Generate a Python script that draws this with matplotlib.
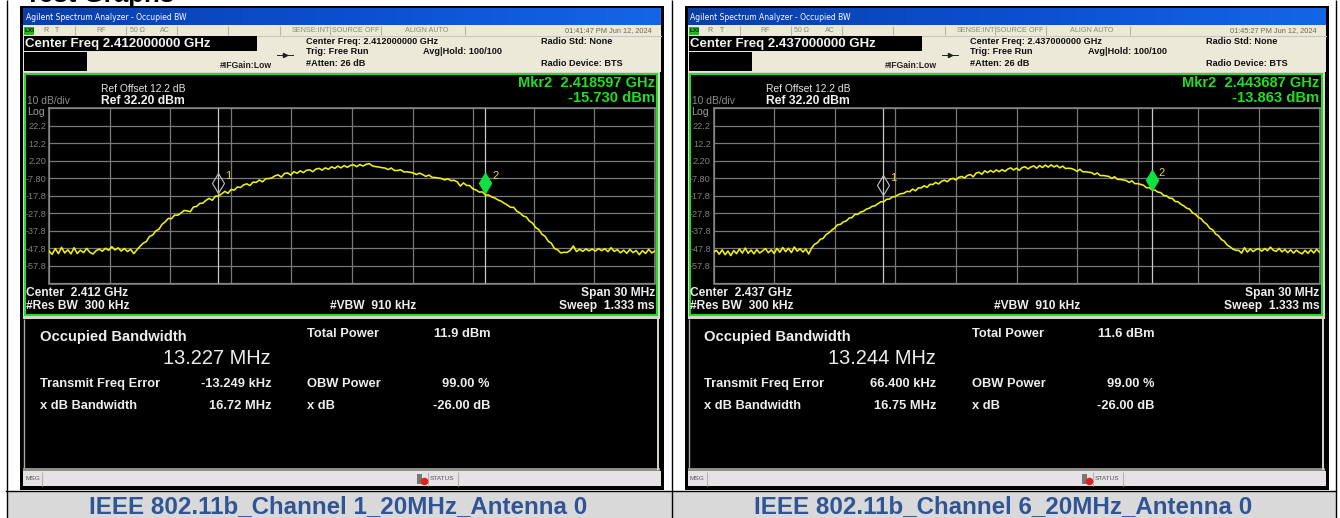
import numpy as np
import matplotlib
matplotlib.use('Agg')
import matplotlib.pyplot as plt
from matplotlib.patches import Rectangle

W, H = 1340, 518
plt.rcParams['font.family'] = ['Liberation Sans', 'DejaVu Sans']

# trace data, dBm, evenly spaced over the 30 MHz span
trace_ch1 = [
    -49.3, -51.2, -47.9, -50.8, -47.2, -50.4, -48.6, -50.9, -47.4, -50.7, -48.8, -50.2,
    -47.8, -50.0, -51.0, -49.1, -48.2, -49.4, -47.7, -48.9, -46.8, -48.7, -47.5, -49.3,
    -47.9, -49.6, -48.3, -50.8, -48.6,
    -46.6, -44.8, -43.9, -41.0, -40.2, -37.9, -36.9, -34.1, -32.7, -30.7, -30.9, -28.8, -28.9,
    -27.7, -26.2, -26.4, -26.9, -24.2, -23.9, -22.2, -22.0, -20.4, -19.3, -20.4, -18.1, -17.9,
    -16.7, -15.3, -16.4, -14.2, -14.6, -12.8, -13.1, -11.6, -11.0, -12.0, -10.0, -10.2, -8.8,
    -9.9, -8.1, -8.0, -7.6, -6.4, -5.9, -7.2, -5.1, -4.8, -6.0, -4.1, -5.0, -3.6, -4.6, -3.3,
    -3.0, -4.1, -2.6, -2.2, -3.2, -1.9, -2.7, -1.3, -2.2, -0.9, -1.9, -0.6, -1.6, -0.5, -0.2,
    -1.2, 0.0, -0.9, 0.1, 0.5, -0.8, -1.2, -1.4, -1.8, -2.0, -2.9, -2.0, -3.4, -3.4, -3.0,
    -4.2, -4.2, -4.4, -4.8, -5.7, -4.9, -5.7, -6.8, -6.0, -7.3, -7.4, -7.7, -8.0, -8.8, -8.1,
    -9.2, -9.0, -9.9, -12.3, -10.5, -11.9, -12.0, -13.9, -14.5, -15.7, -15.6, -17.4, -17.4,
    -18.5, -19.1, -20.2, -20.9, -22.1, -23.1, -24.4, -24.4, -26.6, -27.6, -29.3, -29.9,
    -32.2, -33.4, -35.9, -37.1, -39.8, -40.9, -43.7, -44.9, -47.9, -48.6, -50.4, -50.0,
    -50.1, -48.9, -46.4, -49.6, -48.3, -49.5, -48.1, -49.2, -48.2, -49.3, -47.9, -49.1,
    -48.0, -49.7, -47.4, -49.5, -48.5, -50.3, -48.8, -50.6, -48.4, -50.2, -49.0, -51.4,
    -49.1, -50.7, -48.3, -50.4, -49.2,
]

trace_ch6 = [
    -50.0, -48.9, -51.1, -48.6, -51.4, -49.3, -51.9, -49.0, -50.8, -48.1, -50.5, -47.6,
    -50.6, -48.7, -50.9, -48.5, -50.4, -49.2, -47.9, -50.3, -48.6, -50.7, -47.8, -50.0,
    -47.3, -49.7, -47.7, -50.2, -47.0, -49.4, -48.0, -49.9, -48.2, -51.0,
    -47.6, -45.5, -44.6, -42.6, -42.1, -39.9, -38.9, -37.4, -36.2, -34.3, -34.1, -32.7, -32.2,
    -30.5, -30.2, -28.4, -28.4, -27.1, -26.6, -25.4, -24.9, -23.8, -23.5, -22.3, -21.2, -21.2,
    -19.8, -19.7, -18.4, -18.3, -17.2, -16.6, -16.4, -15.3, -15.5, -14.0, -15.0, -13.3, -13.3,
    -12.1, -13.0, -11.3, -11.4, -10.2, -11.1, -9.6, -8.9, -9.8, -8.4, -7.9, -8.8, -7.3, -6.8,
    -7.7, -6.2, -5.7, -7.0, -4.9, -4.4, -5.6, -3.6, -4.6, -3.4, -4.4, -3.1, -4.1, -2.9, -3.9,
    -2.6, -1.9, -3.1, -2.1, -3.3, -1.7, -1.3, -2.5, -1.4, -0.8, -2.1, -0.6, -1.7, -0.3, -1.5,
    -0.2, -1.4, -0.5, -1.9, -0.9, -2.3, -2.1, -2.3, -2.9, -3.9, -2.7, -4.2, -4.1, -4.4, -4.6,
    -5.7, -4.8, -6.3, -6.3, -6.5, -6.8, -7.9, -7.0, -8.5, -8.5, -8.8, -9.1, -10.2, -9.3, -10.9,
    -10.9, -11.3, -11.8, -13.2, -13.2, -14.5, -14.6, -15.7, -16.0, -17.7, -17.8, -19.2,
    -19.3, -21.1, -21.2, -22.7, -23.6, -24.9, -25.4, -27.6, -28.3, -30.1, -30.9, -32.9,
    -34.1, -36.4, -37.2, -39.6, -40.6, -42.7, -43.7, -45.9, -46.9, -48.2, -48.9, -48.9,
    -50.5, -47.4, -49.9, -48.1, -49.6, -48.4, -48.0, -49.4, -47.9, -49.1, -47.1, -48.9,
    -49.5, -47.8, -49.8, -48.4, -50.2, -48.6, -50.5, -48.8, -50.1, -50.9, -48.9, -50.6,
    -48.6, -50.4, -48.3, -50.0,
]

# y axis labels, dBm
level_values = [32.2, 22.2, 12.2, 2.2, -7.8, -17.8, -27.8, -37.8, -47.8, -57.8, -67.8]
level_labels = ['', '22.2', '12.2', '2.20', '-7.80', '-17.8', '-27.8', '-37.8', '-47.8', '-57.8', '']

# marker positions: MHz from center, and drawn level in dBm
mkr1_ch1 = (-6.63, -10.3)
mkr2_ch1 = (6.60, -10.3)
mkr1_ch6 = (-6.62, -11.4)
mkr2_ch6 = (6.69, -8.6)

clock = ['01:41:47 PM Jun 12, 2024', '01:45:27 PM Jun 12, 2024']
center_ghz = ['2.412', '2.437']
mkr_freq = ['2.418597', '2.443687']
mkr_level = ['-15.730', '-13.863']
obw = ['13.227 MHz', '13.244 MHz']
total_power = ['11.9 dBm', '11.6 dBm']
freq_error = ['-13.249 kHz', '66.400 kHz']
xdb_bw = ['16.72 MHz', '16.75 MHz']
captions = ['IEEE 802.11b_Channel 1_20MHz_Antenna 0', 'IEEE 802.11b_Channel 6_20MHz_Antenna 0']

fig = plt.figure(figsize=(W / 100, H / 100), dpi=100)
bg = fig.add_axes([0, 0, 1, 1])
bg.set_xlim(0, W)
bg.set_ylim(H, 0)
bg.axis('off')


def box(x0, y0, x1, y1, color, z=1):
    bg.add_patch(Rectangle((x0, y0), x1 - x0, y1 - y0, fc=color, ec='none', zorder=z))


def vline(x, y0, y1, color='#b5b3ae', lw=0.8, z=3):
    bg.plot([x, x], [y0, y1], color=color, lw=lw, zorder=z, solid_capstyle='butt')


def put(x, y, s, px, color='black', weight='normal', ha='left', **kw):
    bg.text(x, y, s, fontsize=px * 0.72, color=color, weight=weight, ha=ha, va='center', zorder=5, **kw)


def panel(i, dx, trace, mkr1, mkr2):
    # window frame
    box(dx + 20, 6, dx + 664, 490, 'black')
    # title bar
    grad = np.linspace(0, 1, 200).reshape(1, -1)
    bg.imshow(grad, extent=(dx + 23, dx + 661, 25, 8), aspect='auto', zorder=2,
              cmap=matplotlib.colors.LinearSegmentedColormap.from_list('bar', ['#0b3fa8', '#0a4fd0', '#1466e6']))
    put(dx + 26, 17, 'Agilent Spectrum Analyzer - Occupied BW', 7.7, 'white',
        family=['DejaVu Sans'])
    # top status row and settings block
    box(dx + 23, 25, dx + 661, 72, '#ece9d8', 2)
    box(dx + 24, 27, dx + 34, 35, '#22b822', 3)
    put(dx + 25, 31, 'LXI', 6.5, '#111111', 'bold')
    put(dx + 43, 31, 'R', 7, '#777777')
    put(dx + 55, 31, 'T', 7, '#777777')
    put(dx + 96, 31, 'RF', 7, '#888888')
    put(dx + 130, 31, '50 Ω', 7, '#888888')
    put(dx + 160, 31, 'AC', 7, '#888888')
    put(dx + 292, 31, 'SENSE:INT', 7.3, '#888888')
    put(dx + 332, 31, 'SOURCE OFF', 7.3, '#888888')
    put(dx + 405, 31, 'ALIGN AUTO', 7.3, '#888888')
    put(dx + 652, 31, clock[i], 7.4, '#666666', ha='right')
    for sx in [75, 126, 177, 228, 280, 330, 381, 465]:
        vline(dx + sx, 26, 35)
    bg.plot([dx + 23, dx + 661], [35.5, 35.5], color='#c8c6bd', lw=0.8, zorder=3)

    box(dx + 24, 36, dx + 257, 51, 'black', 3)
    put(dx + 25, 44, 'Center Freq ' + center_ghz[i] + '000000 GHz', 13.2, '#f2f2f2', 'bold')
    box(dx + 24, 52, dx + 87, 71, 'black', 3)
    put(dx + 306, 42, 'Center Freq: ' + center_ghz[i] + '000000 GHz', 9.1, '#111111', 'bold')
    put(dx + 306, 52, 'Trig: Free Run', 9.1, '#111111', 'bold')
    put(dx + 306, 63, '#Atten: 26 dB', 9.1, '#111111', 'bold')
    put(dx + 423, 52, 'Avg|Hold: 100/100', 9.1, '#111111', 'bold')
    put(dx + 541, 42, 'Radio Std: None', 9.1, '#111111', 'bold')
    put(dx + 541, 63, 'Radio Device: BTS', 9.1, '#111111', 'bold')
    put(dx + 220, 65, '#IFGain:Low', 8.7, '#222222', 'bold')
    bg.plot([dx + 277, dx + 293], [55, 55], color='#222222', lw=0.7, zorder=4)
    bg.plot([dx + 285], [55], marker='>', ms=3, color='#222222', zorder=4)

    # green screen frame
    box(dx + 23, 72, dx + 660, 319, '#d8d6cc', 2)
    box(dx + 24, 73, dx + 658, 316, '#22dd22', 3)
    box(dx + 26, 75, dx + 656, 314, 'black', 4)

    put(dx + 101, 89, 'Ref Offset 12.2 dB', 10.2, '#e6e6e6')
    put(dx + 101, 101, 'Ref 32.20 dBm', 12.1, '#f2f2f2', 'bold')
    put(dx + 27, 101, '10 dB/div', 10.2, '#8c8c8c')
    put(dx + 27, 112, 'Log', 10.5, '#9a9a9a')
    put(dx + 655, 83, 'Mkr2  ' + mkr_freq[i] + ' GHz', 14.6, '#22dd22', 'bold', ha='right')
    put(dx + 655, 98, mkr_level[i] + ' dBm', 14.7, '#22dd22', 'bold', ha='right')

    put(dx + 26, 293, 'Center  ' + center_ghz[i] + ' GHz', 12, '#eeeeee', 'bold')
    put(dx + 26, 306, '#Res BW  300 kHz', 12, '#eeeeee', 'bold')
    put(dx + 330, 306, '#VBW  910 kHz', 12, '#eeeeee', 'bold')
    put(dx + 655, 293, 'Span 30 MHz', 12, '#eeeeee', 'bold', ha='right')
    put(dx + 655, 306, 'Sweep  1.333 ms', 12, '#eeeeee', 'bold', ha='right')

    # trace plot
    x0, x1, y0, y1 = dx + 49, dx + 655, 108, 283.5
    ax = fig.add_axes([x0 / W, 1 - y1 / H, (x1 - x0) / W, (y1 - y0) / H], facecolor='black')
    ax.set_xlim(-15, 15)
    ax.set_ylim(level_values[-1], level_values[0])
    ax.set_xticks(np.linspace(-15, 15, 11))
    ax.set_yticks(level_values)
    ax.set_yticklabels(level_labels, fontsize=6.6, color='#808080')
    ax.tick_params(axis='both', length=0, labelbottom=False, pad=2)
    ax.grid(True, color='#787878', lw=0.9)
    ax.set_axisbelow(True)
    for sp in ax.spines.values():
        sp.set_color('#8a8a8a')
        sp.set_linewidth(1.1)
    ax.plot(np.linspace(-15, 15, len(trace)), trace, color='#f2f20a', lw=1.15, zorder=3)
    ax.axvline(mkr1[0], color='#c8c8c8', lw=0.9, zorder=2)
    ax.axvline(mkr2[0], color='#c8c8c8', lw=0.9, zorder=2)
    ax.plot(*mkr1, marker='d', ms=10, mfc='none', mec='#c0c0c0', mew=0.8, zorder=4)
    ax.plot(*mkr2, marker='d', ms=10, mfc='#10e040', mec='#10e040', zorder=4)
    ax.annotate('1', mkr1, xytext=(7, 7), textcoords='offset pixels', color='#e6d830', fontsize=8, va='center')
    ax.annotate('2', mkr2, xytext=(7, 7), textcoords='offset pixels', color='#e6d830', fontsize=8, va='center')

    # result panel
    vline(dx + 24, 319, 468, '#a8a8a0', 1.0)
    vline(dx + 658, 319, 470, '#d8d6cc', 1.4)
    put(dx + 40, 337, 'Occupied Bandwidth', 14.8, '#eeeeee', 'bold')
    put(dx + 271, 358, obw[i], 20, '#eeeeee', ha='right')
    put(dx + 307, 334, 'Total Power', 12.9, '#eeeeee', 'bold')
    put(dx + 490, 334, total_power[i], 12.9, '#eeeeee', 'bold', ha='right')
    put(dx + 40, 384, 'Transmit Freq Error', 12.9, '#eeeeee', 'bold')
    put(dx + 272, 384, freq_error[i], 12.9, '#eeeeee', 'bold', ha='right')
    put(dx + 307, 384, 'OBW Power', 12.9, '#eeeeee', 'bold')
    put(dx + 490, 384, '99.00 %', 12.9, '#eeeeee', 'bold', ha='right')
    put(dx + 40, 406, 'x dB Bandwidth', 12.9, '#eeeeee', 'bold')
    put(dx + 272, 406, xdb_bw[i], 12.9, '#eeeeee', 'bold', ha='right')
    put(dx + 307, 406, 'x dB', 12.9, '#eeeeee', 'bold')
    put(dx + 490, 406, '-26.00 dB', 12.9, '#eeeeee', 'bold', ha='right')

    # bottom message bar
    box(dx + 23, 468, dx + 660, 471, '#8f8f88', 2)
    box(dx + 23, 471, dx + 661, 486, '#e6e3e6', 2)
    put(dx + 25, 479, 'MSG', 6.5, '#555555')
    put(dx + 430, 479, 'STATUS', 6.5, '#555555')
    vline(dx + 42, 472, 486)
    vline(dx + 428, 472, 486)
    vline(dx + 458, 472, 486)
    box(dx + 417, 474, dx + 422, 484, '#777777', 3)
    bg.plot([dx + 424], [481], marker='o', ms=4.5, color='#e02020', zorder=4)

    # caption row
    put(dx + 338.5, 506.5, captions[i], 24.1, '#2f5597', 'bold', ha='center')


box(6.5, 491, 1336, H, '#d9d9d9', 0)
bg.text(25, 2, 'Test Graphs', fontsize=18.6, weight='bold', color='black', va='baseline', zorder=0)

panel(0, 0, trace_ch1, mkr1_ch1, mkr2_ch1)
panel(1, 664.5, trace_ch6, mkr1_ch6, mkr2_ch6)

# table rules
bg.plot([6, 1336], [491, 491], color='black', lw=1.0, zorder=6)
for x in [6.5, 671.5, 1336]:
    vline(x, 0, H, 'black', 1.0, 6)
bg.set_xlim(0, W)
bg.set_ylim(H, 0)

fig.savefig('out.png', dpi=100)
